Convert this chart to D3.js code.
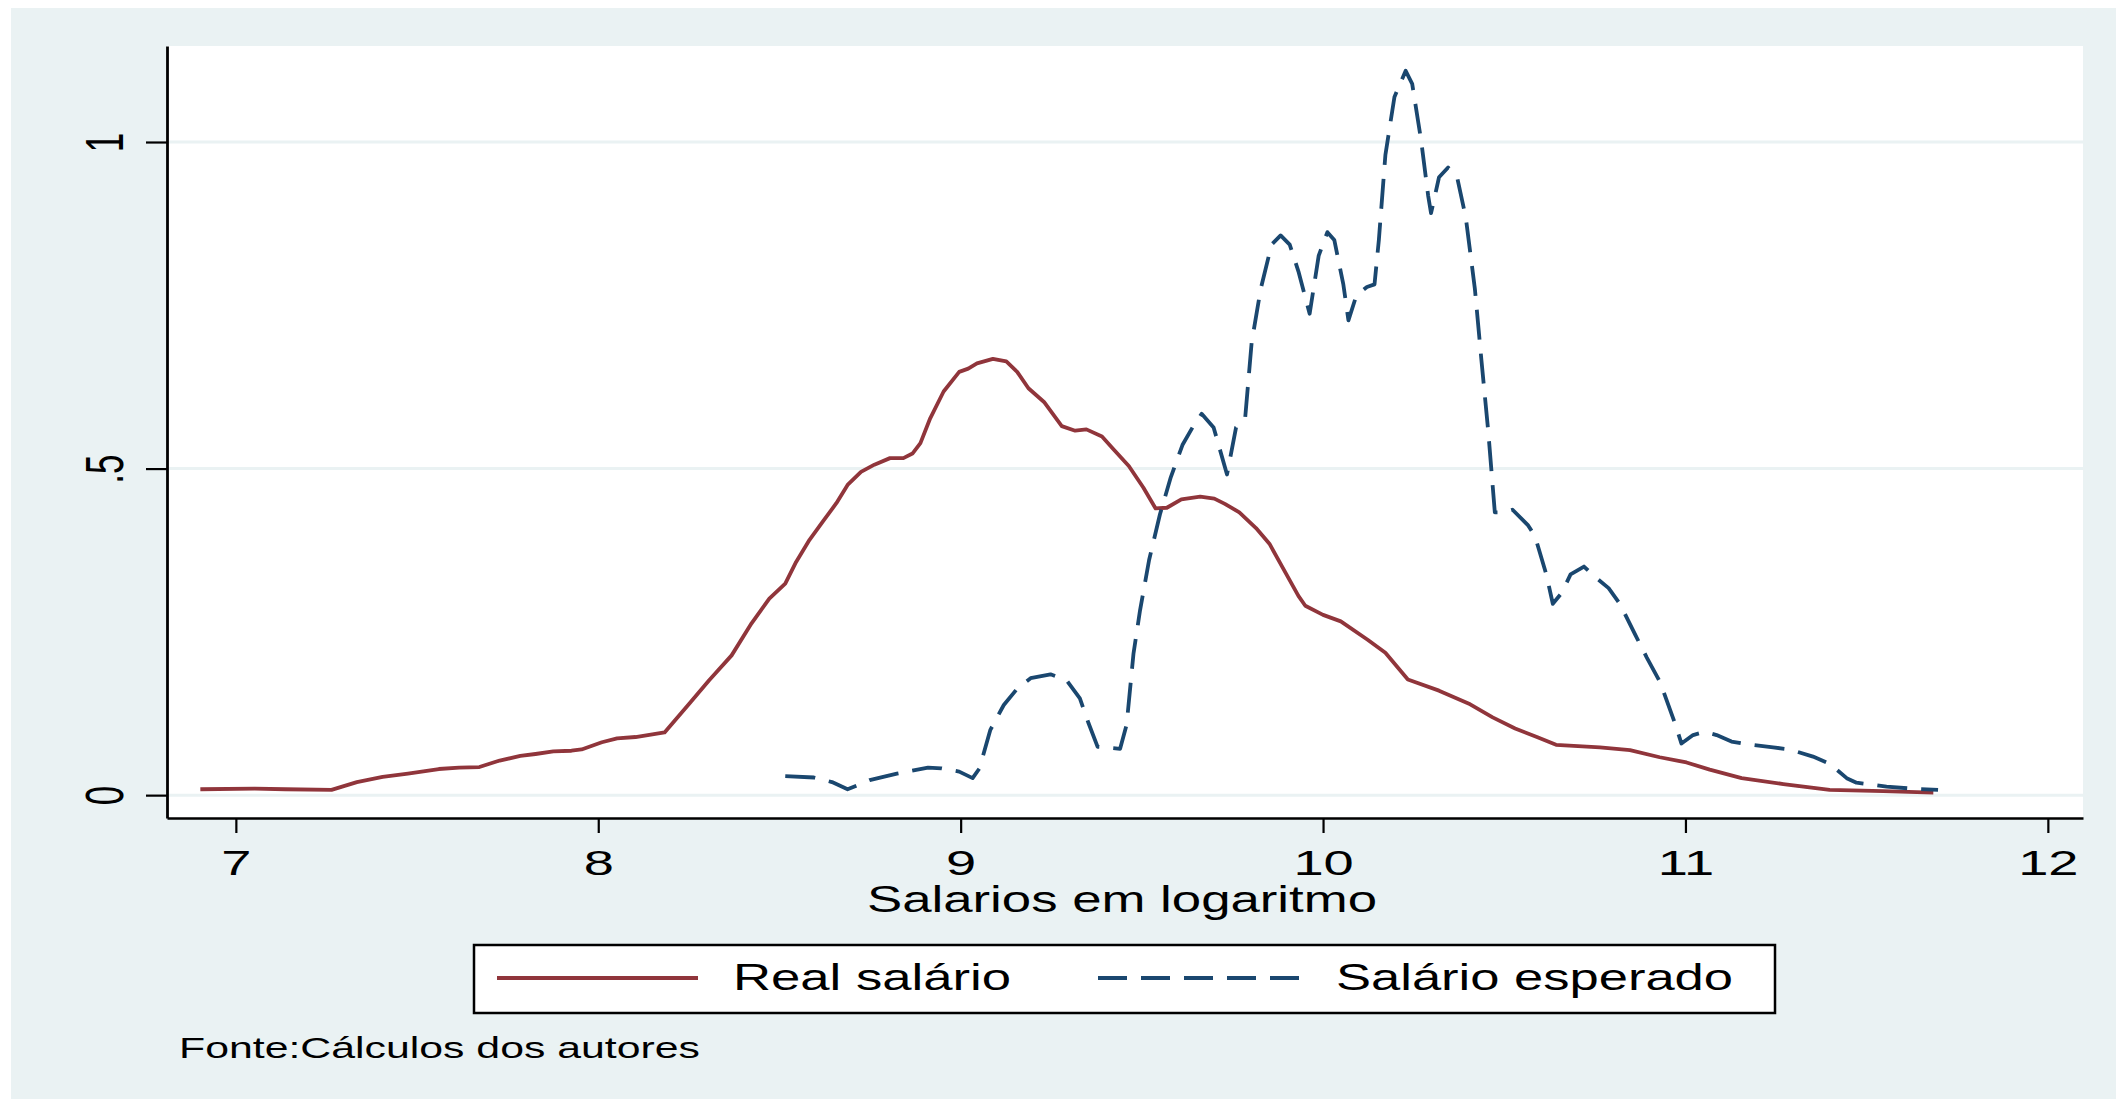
<!DOCTYPE html>
<html>
<head>
	<title>Salarios em logaritmo</title>
	<script src="https://cdn.jsdelivr.net/npm/d3@7"></script>
</head>
<style type="text/css">
body
{
	margin: 0;
	background-color: #ffffff;
}
text
{
	font-family: "Liberation Sans", Arial, sans-serif;
	fill: #000000;
}
</style>
<body>

</body>
</html>
<script type="text/javascript">
	// valores (densidade kernel)
	var realX = [6.902, 7.052, 7.137, 7.264, 7.334, 7.405, 7.475, 7.560, 7.616, 7.672, 7.728, 7.785, 7.827, 7.876, 7.926, 7.954,
		8.010, 8.052, 8.103, 8.183, 8.251, 8.306, 8.368, 8.423, 8.472, 8.516, 8.546, 8.583, 8.620, 8.657, 8.688, 8.725, 8.762,
		8.805, 8.842, 8.867, 8.889, 8.916, 8.953, 8.996, 9.021, 9.045, 9.089, 9.126, 9.156, 9.187, 9.230, 9.279, 9.316, 9.347,
		9.390, 9.421, 9.464, 9.504, 9.538, 9.569, 9.609, 9.661, 9.700, 9.729, 9.769, 9.815, 9.852, 9.889, 9.932, 9.951, 10.000,
		10.049, 10.123, 10.172, 10.234, 10.320, 10.406, 10.468, 10.530, 10.590, 10.643, 10.764, 10.847, 10.929, 11.003, 11.067,
		11.155, 11.270, 11.398, 11.546, 11.684];
	var realDens = [0.009, 0.010, 0.009, 0.008, 0.020, 0.028, 0.033, 0.040, 0.042, 0.043, 0.053, 0.060, 0.063, 0.067, 0.068, 0.070,
		0.081, 0.087, 0.089, 0.096, 0.140, 0.176, 0.214, 0.263, 0.301, 0.324, 0.357, 0.391, 0.419, 0.447, 0.475, 0.495, 0.506,
		0.516, 0.516, 0.523, 0.539, 0.577, 0.618, 0.648, 0.653, 0.661, 0.668, 0.664, 0.648, 0.623, 0.602, 0.565, 0.558, 0.560,
		0.549, 0.530, 0.504, 0.471, 0.439, 0.440, 0.453, 0.457, 0.454, 0.446, 0.433, 0.409, 0.385, 0.348, 0.305, 0.290, 0.276,
		0.266, 0.238, 0.218, 0.177, 0.160, 0.139, 0.119, 0.102, 0.089, 0.077, 0.073, 0.069, 0.058, 0.050, 0.039,
		0.026, 0.017, 0.008, 0.006, 0.004];

	var esperadoX = [8.516, 8.595, 8.645, 8.688, 8.749, 8.824, 8.910, 8.947, 8.996, 9.033, 9.052, 9.082, 9.119, 9.156, 9.193,
		9.248, 9.292, 9.329, 9.353, 9.378, 9.440, 9.458, 9.477, 9.495, 9.520, 9.550, 9.580, 9.612, 9.643, 9.665, 9.698, 9.735,
		9.760, 9.785, 9.803, 9.828, 9.858, 9.883, 9.908, 9.932, 9.963, 9.988, 10.012, 10.031, 10.056, 10.070, 10.092, 10.121,
		10.142, 10.154, 10.172, 10.197, 10.228, 10.246, 10.271, 10.290, 10.298, 10.320, 10.345, 10.370, 10.394, 10.419, 10.437,
		10.456, 10.474, 10.499, 10.523, 10.566, 10.585, 10.616, 10.634, 10.659, 10.683, 10.720, 10.751, 10.788, 10.819, 10.862,
		10.893, 10.930, 10.971, 10.989, 11.021, 11.054, 11.086, 11.127, 11.169, 11.242, 11.288, 11.352, 11.398, 11.445, 11.472,
		11.500, 11.555, 11.624, 11.697];
	var esperadoDens = [0.029, 0.027, 0.020, 0.009, 0.023, 0.033, 0.042, 0.041, 0.036, 0.026, 0.041, 0.100, 0.138, 0.163, 0.179,
		0.185, 0.176, 0.148, 0.110, 0.074, 0.071, 0.108, 0.217, 0.283, 0.360, 0.430, 0.487, 0.536, 0.566, 0.584, 0.563, 0.491,
		0.563, 0.577, 0.693, 0.775, 0.843, 0.857, 0.843, 0.802, 0.737, 0.826, 0.862, 0.850, 0.782, 0.727, 0.765, 0.778,
		0.782, 0.850, 0.980, 1.069, 1.109, 1.089, 1.001, 0.918, 0.891, 0.946, 0.961, 0.946, 0.884, 0.775, 0.666,
		0.556, 0.433, 0.433, 0.437, 0.413, 0.396, 0.338, 0.293, 0.310, 0.338, 0.350, 0.334, 0.317, 0.293, 0.245,
		0.211, 0.173, 0.110, 0.079, 0.092, 0.097, 0.092, 0.082, 0.078, 0.073, 0.070, 0.059, 0.048, 0.026, 0.019,
		0.017, 0.013, 0.010, 0.008];

	var xTicks = [7, 8, 9, 10, 11, 12];
	var yTicks = [0, 0.5, 1];
	var yTickLabels = ["0", ".5", "1"];
	var seriesNames = ["Real salário", "Salário esperado"];
	var xTitle = "Salarios em logaritmo";
	var nota = "Fonte:Cálculos dos autores";

	var w = 2116;
	var h = 1103;
	var plot = {left:167, right:2083, top:46, bottom:818};
	var stretch = 1.55; // o grafico original esta esticado na horizontal
	var red = "#90353b";
	var navy = "#1a476f";
	var bg = "#eaf2f3";

	var svg = d3.select("body").append("svg").attr("width", w).attr("height", h);
	svg.append("rect").attr("x", 11).attr("y", 8).attr("width", w - 11).attr("height", h - 12).attr("fill", bg);
	svg.append("rect").attr("x", plot.left).attr("y", plot.top)
		.attr("width", plot.right - plot.left).attr("height", plot.bottom - plot.top).attr("fill", "#ffffff");

	var x = d3.scaleLinear()
				.domain([6.81, 12.097])
				.range([plot.left, plot.right]);
	var y = d3.scaleLinear()
				.domain([-0.035, 1.147])
				.range([plot.bottom, plot.top]);

	// grade
	svg.append("g").selectAll("line").data(yTicks).enter().append("line")
		.attr("x1", plot.left).attr("x2", plot.right)
		.attr("y1", function(d){return y(d)}).attr("y2", function(d){return y(d)})
		.attr("stroke", bg).attr("stroke-width", 3);

	// curvas
	var realData = realX.map(function(d,i){return [d, realDens[i]]});
	var espData = esperadoX.map(function(d,i){return [d, esperadoDens[i]]});
	var line = d3.line().x(function(d){return x(d[0])}).y(function(d){return y(d[1])});

	svg.append("path").datum(realData).attr("d", line)
		.attr("fill", "none").attr("stroke", red).attr("stroke-width", 3.8).attr("stroke-linejoin", "round");
	svg.append("path").datum(espData).attr("d", line)
		.attr("fill", "none").attr("stroke", navy).attr("stroke-width", 3.8)
		.attr("stroke-dasharray", "30,14").attr("stroke-linejoin", "round");

	// eixos
	var xaxis = d3.axisBottom(x).tickValues(xTicks).tickSize(15).tickSizeOuter(0).tickFormat(d3.format("d"));
	var gx = svg.append("g").attr("transform", "translate(0," + plot.bottom + ")").call(xaxis);
	gx.select(".domain").attr("stroke-width", 2.6);
	gx.selectAll(".tick line").attr("stroke-width", 2.2);
	gx.selectAll(".tick text").attr("y", 57).attr("dy", null)
		.attr("font-size", 35).attr("transform", "scale(" + stretch + ",1)")
		.attr("x", 0);

	var yaxis = d3.axisLeft(y).tickValues(yTicks).tickSize(21).tickSizeOuter(0)
		.tickFormat(function(d,i){return yTickLabels[i]});
	var gy = svg.append("g").attr("transform", "translate(" + plot.left + ",0)").call(yaxis);
	gy.select(".domain").attr("stroke-width", 2.8);
	gy.selectAll(".tick line").attr("stroke-width", 2.2);
	gy.selectAll(".tick text").attr("x", 0).attr("y", 0).attr("dy", null)
		.attr("text-anchor", "middle").attr("font-size", 35)
		.attr("transform", "translate(-44,0) scale(" + stretch + ",1) rotate(-90)");
	svg.selectAll(".tick text").attr("font-family", null).style("font-family", "'Liberation Sans', Arial, sans-serif");

	// titulo do eixo x
	svg.append("text").attr("x", 867).attr("y", 912).attr("font-size", 37)
		.attr("textLength", 510).attr("lengthAdjust", "spacingAndGlyphs").text(xTitle);

	// legenda
	var leg = svg.append("g");
	leg.append("rect").attr("x", 474).attr("y", 945).attr("width", 1301).attr("height", 68)
		.attr("fill", "#ffffff").attr("stroke", "#000000").attr("stroke-width", 2.5);
	leg.append("line").attr("x1", 497).attr("x2", 698).attr("y1", 978).attr("y2", 978)
		.attr("stroke", red).attr("stroke-width", 3.8);
	leg.append("text").attr("x", 733).attr("y", 990).attr("font-size", 36)
		.attr("textLength", 278).attr("lengthAdjust", "spacingAndGlyphs").text(seriesNames[0]);
	leg.append("line").attr("x1", 1098).attr("x2", 1300).attr("y1", 978).attr("y2", 978)
		.attr("stroke", navy).attr("stroke-width", 3.8).attr("stroke-dasharray", "29,14");
	leg.append("text").attr("x", 1336).attr("y", 990).attr("font-size", 36)
		.attr("textLength", 397).attr("lengthAdjust", "spacingAndGlyphs").text(seriesNames[1]);

	// nota
	svg.append("text").attr("x", 179).attr("y", 1058).attr("font-size", 29)
		.attr("textLength", 521).attr("lengthAdjust", "spacingAndGlyphs").text(nota);
</script>
